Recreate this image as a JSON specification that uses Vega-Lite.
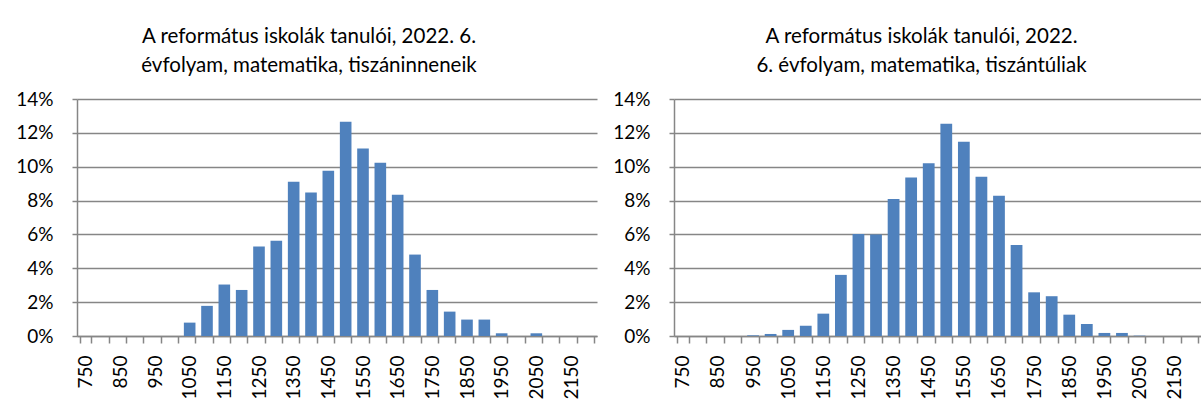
{
  "$schema": "https://vega.github.io/schema/vega-lite/v6.json",
  "background": "white",
  "padding": {"left": 15, "top": 27, "right": 0, "bottom": 0},
  "autosize": {"type": "pad"},
  "bounds": "flush",
  "spacing": 77,
  "config": {
    "font": "Lato",
    "view": {"stroke": null},
    "axis": {
      "labelFont": "Lato",
      "labelFontSize": 19,
      "labelColor": "#000000",
      "domainColor": "#868686",
      "tickColor": "#868686",
      "gridColor": "#868686",
      "gridOpacity": 1,
      "domainWidth": 1.5,
      "tickWidth": 1.5,
      "gridWidth": 1.5
    },
    "title": {
      "font": "Lato",
      "fontSize": 20.5,
      "fontWeight": "normal",
      "color": "#000000",
      "lineHeight": 28.5,
      "anchor": "middle",
      "frame": "group"
    }
  },
  "data": {
    "values": [
      {"region": "inn", "score": 750, "pct": 0},
      {"region": "inn", "score": 800, "pct": 0},
      {"region": "inn", "score": 850, "pct": 0},
      {"region": "inn", "score": 900, "pct": 0},
      {"region": "inn", "score": 950, "pct": 0},
      {"region": "inn", "score": 1000, "pct": 0},
      {"region": "inn", "score": 1050, "pct": 0.0079},
      {"region": "inn", "score": 1100, "pct": 0.0178},
      {"region": "inn", "score": 1150, "pct": 0.0304},
      {"region": "inn", "score": 1200, "pct": 0.0272},
      {"region": "inn", "score": 1250, "pct": 0.0529},
      {"region": "inn", "score": 1300, "pct": 0.0562},
      {"region": "inn", "score": 1350, "pct": 0.0911},
      {"region": "inn", "score": 1400, "pct": 0.0848},
      {"region": "inn", "score": 1450, "pct": 0.0976},
      {"region": "inn", "score": 1500, "pct": 0.1266},
      {"region": "inn", "score": 1550, "pct": 0.1107},
      {"region": "inn", "score": 1600, "pct": 0.1024},
      {"region": "inn", "score": 1650, "pct": 0.0834},
      {"region": "inn", "score": 1700, "pct": 0.0481},
      {"region": "inn", "score": 1750, "pct": 0.0272},
      {"region": "inn", "score": 1800, "pct": 0.0144},
      {"region": "inn", "score": 1850, "pct": 0.0097},
      {"region": "inn", "score": 1900, "pct": 0.0097},
      {"region": "inn", "score": 1950, "pct": 0.0016},
      {"region": "inn", "score": 2000, "pct": 0},
      {"region": "inn", "score": 2050, "pct": 0.0016},
      {"region": "inn", "score": 2100, "pct": 0},
      {"region": "inn", "score": 2150, "pct": 0},
      {"region": "inn", "score": 2200, "pct": 0},
      {"region": "tul", "score": 750, "pct": 0},
      {"region": "tul", "score": 800, "pct": 0},
      {"region": "tul", "score": 850, "pct": 0},
      {"region": "tul", "score": 900, "pct": 0},
      {"region": "tul", "score": 950, "pct": 0.0004},
      {"region": "tul", "score": 1000, "pct": 0.0012},
      {"region": "tul", "score": 1050, "pct": 0.0036},
      {"region": "tul", "score": 1100, "pct": 0.0061},
      {"region": "tul", "score": 1150, "pct": 0.0132},
      {"region": "tul", "score": 1200, "pct": 0.0361},
      {"region": "tul", "score": 1250, "pct": 0.0602},
      {"region": "tul", "score": 1300, "pct": 0.06},
      {"region": "tul", "score": 1350, "pct": 0.0809},
      {"region": "tul", "score": 1400, "pct": 0.0937},
      {"region": "tul", "score": 1450, "pct": 0.102},
      {"region": "tul", "score": 1500, "pct": 0.1254},
      {"region": "tul", "score": 1550, "pct": 0.1148},
      {"region": "tul", "score": 1600, "pct": 0.0941},
      {"region": "tul", "score": 1650, "pct": 0.0828},
      {"region": "tul", "score": 1700, "pct": 0.0538},
      {"region": "tul", "score": 1750, "pct": 0.0258},
      {"region": "tul", "score": 1800, "pct": 0.0235},
      {"region": "tul", "score": 1850, "pct": 0.0126},
      {"region": "tul", "score": 1900, "pct": 0.0071},
      {"region": "tul", "score": 1950, "pct": 0.0018},
      {"region": "tul", "score": 2000, "pct": 0.0018},
      {"region": "tul", "score": 2050, "pct": 0.0002},
      {"region": "tul", "score": 2100, "pct": 0},
      {"region": "tul", "score": 2150, "pct": 0},
      {"region": "tul", "score": 2200, "pct": 0}
    ]
  },
  "hconcat": [
    {
      "width": 520,
      "height": 237,
      "title": {"text": ["A református iskolák tanulói, 2022. 6.", "évfolyam, matematika, tiszáninneneik"], "dx": -28, "offset": 14},
      "transform": [{"filter": "datum.region == 'inn'"}],
      "mark": {"type": "bar", "color": "#4f81bd"},
      "encoding": {
        "x": {
          "field": "score", "type": "ordinal", "sort": "ascending",
          "scale": {"paddingInner": 0.33, "paddingOuter": 0.165},
          "axis": {"title": null, "labelAngle": -90, "labelExpr": "datum.value % 100 == 50 ? datum.label : ''", "tickBand": "extent", "tickSize": 7, "labelPadding": 12}
        },
        "y": {
          "field": "pct", "type": "quantitative",
          "scale": {"domain": [0, 0.14], "nice": false},
          "axis": {"title": null, "format": ".0%", "values": [0, 0.02, 0.04, 0.06, 0.08, 0.1, 0.12, 0.14], "tickSize": 5, "labelPadding": 19}
        }
      }
    },
    {
      "width": 527,
      "height": 237,
      "title": {"text": ["A református iskolák tanulói, 2022.", "6. évfolyam, matematika, tiszántúliak"], "dx": -16, "offset": 14},
      "transform": [{"filter": "datum.region == 'tul'"}],
      "mark": {"type": "bar", "color": "#4f81bd"},
      "encoding": {
        "x": {
          "field": "score", "type": "ordinal", "sort": "ascending",
          "scale": {"paddingInner": 0.33, "paddingOuter": 0.165},
          "axis": {"title": null, "labelAngle": -90, "labelExpr": "datum.value % 100 == 50 ? datum.label : ''", "tickBand": "extent", "tickSize": 7, "labelPadding": 12}
        },
        "y": {
          "field": "pct", "type": "quantitative",
          "scale": {"domain": [0, 0.14], "nice": false},
          "axis": {"title": null, "format": ".0%", "values": [0, 0.02, 0.04, 0.06, 0.08, 0.1, 0.12, 0.14], "tickSize": 5, "labelPadding": 19}
        }
      }
    }
  ]
}
